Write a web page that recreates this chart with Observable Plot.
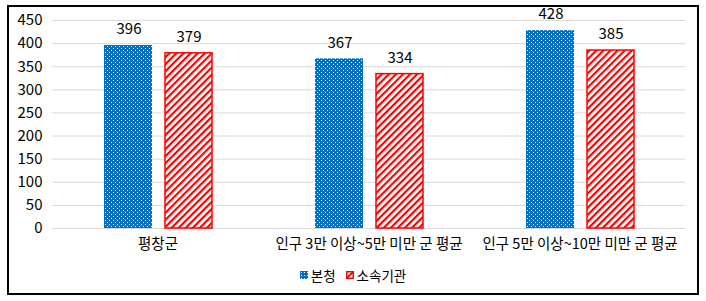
<!DOCTYPE html>
<html><head><meta charset="utf-8">
<script src="https://cdn.jsdelivr.net/npm/d3@7"></script>
<script src="https://cdn.jsdelivr.net/npm/@observablehq/plot@0.6"></script>
<style>
body{margin:0;background:#fff;font-family:"Noto Sans CJK KR","Noto Sans",sans-serif;}
#box{position:absolute;left:7px;top:5px;width:688px;height:286px;border:2px solid #000;background:#fff;}
#chart{position:absolute;left:0;top:-7px;}
#legend{position:absolute;left:0;width:100%;top:256px;text-align:center;font-size:13.5px;color:#000;}
#legend span.item{display:inline-flex;align-items:center;margin:0 5px;}
#legend svg{margin-right:3px;}
</style></head><body>
<div id="box"><div id="chart"></div><div id="legend"></div></div>
<script>
const categories = ["평창군", "인구 3만 이상~5만 미만 군 평균", "인구 5만 이상~10만 미만 군 평균"];
const seriesNames = ["본청", "소속기관"];
const mainValues = [396, 367, 428];
const subValues = [379, 334, 385];
const yTicks = [0, 50, 100, 150, 200, 250, 300, 350, 400, 450];

const mainData = categories.map((c, i) => ({category: c, value: mainValues[i]}));
const subData = categories.map((c, i) => ({category: c, value: subValues[i]}));

const font = "Noto Sans CJK KR";
const plot = Plot.plot({
  width: 688, height: 262,
  marginLeft: 43, marginRight: 12, marginTop: 20, marginBottom: 34,
  style: {fontFamily: font, fontSize: "15px", color: "#000", background: "transparent", overflow: "visible"},
  x: {domain: categories, padding: 0, label: null, tickSize: 0, tickPadding: 10, fontSize: 14.5},
  y: {domain: [0, 450], ticks: yTicks, label: null, tickSize: 0, tickPadding: 10},
  marks: [
    Plot.ruleY(yTicks, {stroke: "#d9d9d9", strokeWidth: 1}),
    Plot.barY(mainData, {x: "category", y: "value", fill: "url(#dotsPat)", insetLeft: 52, insetRight: 111}),
    Plot.barY(subData, {x: "category", y: "value", fill: "url(#hatchPat)", stroke: "#ff0000", strokeWidth: 1.5, insetLeft: 113, insetRight: 51}),
    Plot.text(mainData, {x: "category", y: "value", text: d => String(d.value), dx: -29, dy: -16, lineAnchor: "middle", fontSize: 15, fill: "#000"}),
    Plot.text(subData, {x: "category", y: "value", text: d => String(d.value), dx: 31, dy: -16, lineAnchor: "middle", fontSize: 15, fill: "#000"})
  ]
});

function addDefs(svgSel) {
  const defs = svgSel.insert("defs", ":first-child");
  const p1 = defs.append("pattern").attr("id", "dotsPat").attr("patternUnits", "userSpaceOnUse").attr("width", 4).attr("height", 4);
  p1.append("rect").attr("width", 4).attr("height", 4).attr("fill", "#0070c0");
  p1.append("rect").attr("x", 0).attr("y", 0).attr("width", 1).attr("height", 1).attr("fill", "#fff");
  p1.append("rect").attr("x", 2).attr("y", 2).attr("width", 1).attr("height", 1).attr("fill", "#fff");
  const p2 = defs.append("pattern").attr("id", "hatchPat").attr("patternUnits", "userSpaceOnUse").attr("width", 5).attr("height", 5).attr("patternTransform", "rotate(45)");
  p2.append("rect").attr("width", 5).attr("height", 5).attr("fill", "#fff");
  p2.append("rect").attr("x", 0).attr("y", 0).attr("width", 2.2).attr("height", 5).attr("fill", "#ff0000");
}
addDefs(d3.select(plot));
document.getElementById("chart").appendChild(plot);
d3.select(plot).selectAll("g[aria-label='x-axis tick label'] text").attr("font-size", 14.5);

// legend
const legend = d3.select("#legend");
seriesNames.forEach((name, i) => {
  const item = legend.append("span").attr("class", "item");
  const s = item.append("svg").attr("width", 8).attr("height", 8);
  const defs = s.append("defs");
  if (i === 0) {
    const p = defs.append("pattern").attr("id", "lgDots").attr("patternUnits", "userSpaceOnUse").attr("width", 3).attr("height", 3);
    p.append("rect").attr("width", 3).attr("height", 3).attr("fill", "#0070c0");
    p.append("rect").attr("width", 1).attr("height", 1).attr("x", 1).attr("y", 1).attr("fill", "#fff");
    s.append("rect").attr("width", 8).attr("height", 8).attr("fill", "url(#lgDots)");
  } else {
    s.append("rect").attr("x", 0.75).attr("y", 0.75).attr("width", 6.5).attr("height", 6.5).attr("fill", "#fff").attr("stroke", "#ff0000").attr("stroke-width", 1.5);
    s.append("line").attr("x1", 1).attr("y1", 7).attr("x2", 7).attr("y2", 1).attr("stroke", "#ff0000").attr("stroke-width", 2);
  }
  item.append("span").text(name);
});
</script>
</body></html>
